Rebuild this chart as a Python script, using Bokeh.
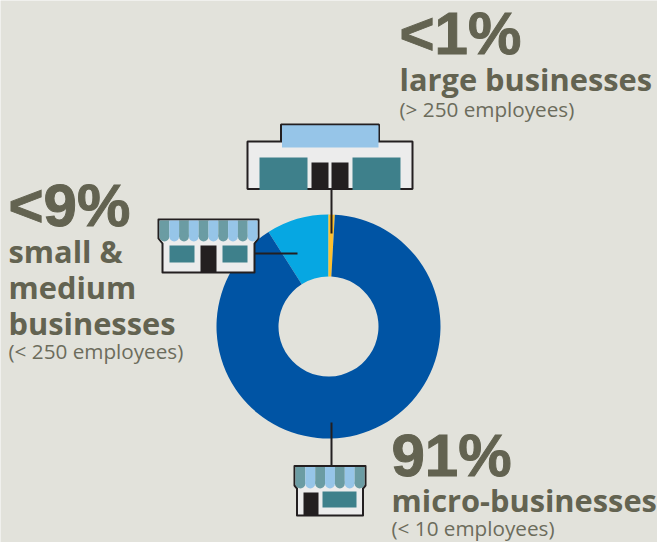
from bokeh.plotting import figure
from bokeh.models import Range1d, ColumnDataSource
from bokeh.core.properties import value
from bokeh.embed import file_html
from bokeh.resources import INLINE
import math

# ---------- data ----------
segments = ["small & medium businesses", "large businesses", "micro-businesses"]
shares = [9.0, 0.9, 90.1]
seg_colors = ["#06a7e2", "#fdc02f", "#0054a4"]

headline = ["<1%", "<9%", "91%"]
TXT = "#636351"
SUB = "#6c6c5c"
BG = "#e2e2db"
INK = "#231f20"
WALL = "#ececec"
TEAL = "#3e808b"
SKY = "#96c5e8"
AWN = "#6b9ca3"

W, H = 657, 542

p = figure(width=W, height=H, x_range=Range1d(0, W), y_range=Range1d(H, 0),
           output_backend="svg", toolbar_location=None, min_border=0,
           background_fill_color=BG, border_fill_color=BG, outline_line_color=None)
p.axis.visible = False
p.grid.visible = False

# ---------- donut ----------
CX, CY, RO, RI = 328, 326, 112, 50
angles = []
a = -shares[0] * 3.6          # clockwise degrees from 12 o'clock
for s in shares:
    angles.append((a, a + s * 3.6))
    a += s * 3.6
src = ColumnDataSource(dict(
    x=[CX] * 3, y=[CY] * 3,
    start=[math.radians(90 - b) for a_, b in angles],
    end=[math.radians(90 - a_) for a_, b in angles],
    color=seg_colors))
p.annular_wedge("x", "y", inner_radius=RI, outer_radius=RO, start_angle="start", end_angle="end",
                fill_color="color", line_color=None, source=src)


def box(x0, y0, x1, y1, fill, line=None, lw=0):
    p.quad(left=x0, right=x1, top=y0, bottom=y1, fill_color=fill,
           line_color=line, line_width=lw)


def line(xs, ys, lw=2):
    p.line(xs, ys, line_color=INK, line_width=lw)


def awning(x0, x1, y0, y1, n):
    w = (x1 - x0) / n
    for i in range(n):
        c = AWN if i % 2 == 0 else SKY
        p.quad(left=x0 + i * w, right=x0 + (i + 1) * w, top=y0, bottom=y1 - w / 2,
               fill_color=c, line_color=None)
        p.ellipse(x=x0 + (i + .5) * w, y=y1 - w / 2, width=w, height=w,
                  fill_color=c, line_color=None)


# ---------- leader lines ----------
line([331, 331], [189, 233])
line([254, 297], [253, 253])
line([331, 331], [422, 465])

# ---------- large shop ----------
box(280.5, 124, 378.5, 147, SKY, INK, 2)
box(247, 141, 412, 188.5, WALL, INK, 2)
box(281.5, 125, 378, 147, SKY)
box(259, 157, 307, 189.5, TEAL)
box(352, 157, 400, 189.5, TEAL)
box(311, 162, 328, 189, INK)
box(331, 162, 348, 189, INK)

# ---------- medium shop ----------
p.patch([158, 258, 258, 254, 254, 162, 162, 158], [219, 219, 238, 243, 272, 272, 243, 238],
        fill_color=WALL, line_color=INK, line_width=2, line_join="round")
awning(159, 257, 220, 241, 10)
box(169, 245, 194, 262, TEAL)
box(222, 245, 247, 262, TEAL)
box(200, 245, 216, 272, INK)

# ---------- micro shop ----------
p.patch([294, 365, 365, 362.5, 362.5, 296.5, 296.5, 294], [465.5, 465.5, 485, 488, 515, 515, 488, 485],
        fill_color=WALL, line_color=INK, line_width=2, line_join="round")
awning(295, 364, 466.5, 488, 7)
box(303, 492, 318, 515, INK)
box(322, 491, 356, 507, TEAL)


# ---------- texts ----------
def txt(x, y, s, size, font="Open Sans", bold=True, color=TXT, thick=False):
    kw = dict(text_outline_color=color) if thick else {}
    p.text([x], [y - 0.37 * size], text=[s], text_font=value(font), text_font_size=f"{size}px",
           text_font_style="bold" if bold else "normal", text_color=color,
           text_baseline="alphabetic", text_align="left", **kw)


HF, HS = "Liberation Sans", 60
LS, SS = 30.8, 20.7

txt(399, 55, headline[0], HS, HF, thick=True)
txt(399, 90, "large businesses", LS)
txt(399, 116, "(> 250 employees)", SS, bold=False, color=SUB)

txt(8, 227, headline[1], HS, HF, thick=True)
txt(8, 262, "small &", LS)
txt(8, 298, "medium", LS)
txt(8, 334, "businesses", LS)
txt(8, 358, "(< 250 employees)", SS, bold=False, color=SUB)

txt(391, 477, headline[2], HS, HF, thick=True)
txt(391, 511, "micro-businesses", LS)
txt(391, 535.5, "(< 10 employees)", SS, bold=False, color=SUB)

open("out.html", "w").write(file_html(p, INLINE))
